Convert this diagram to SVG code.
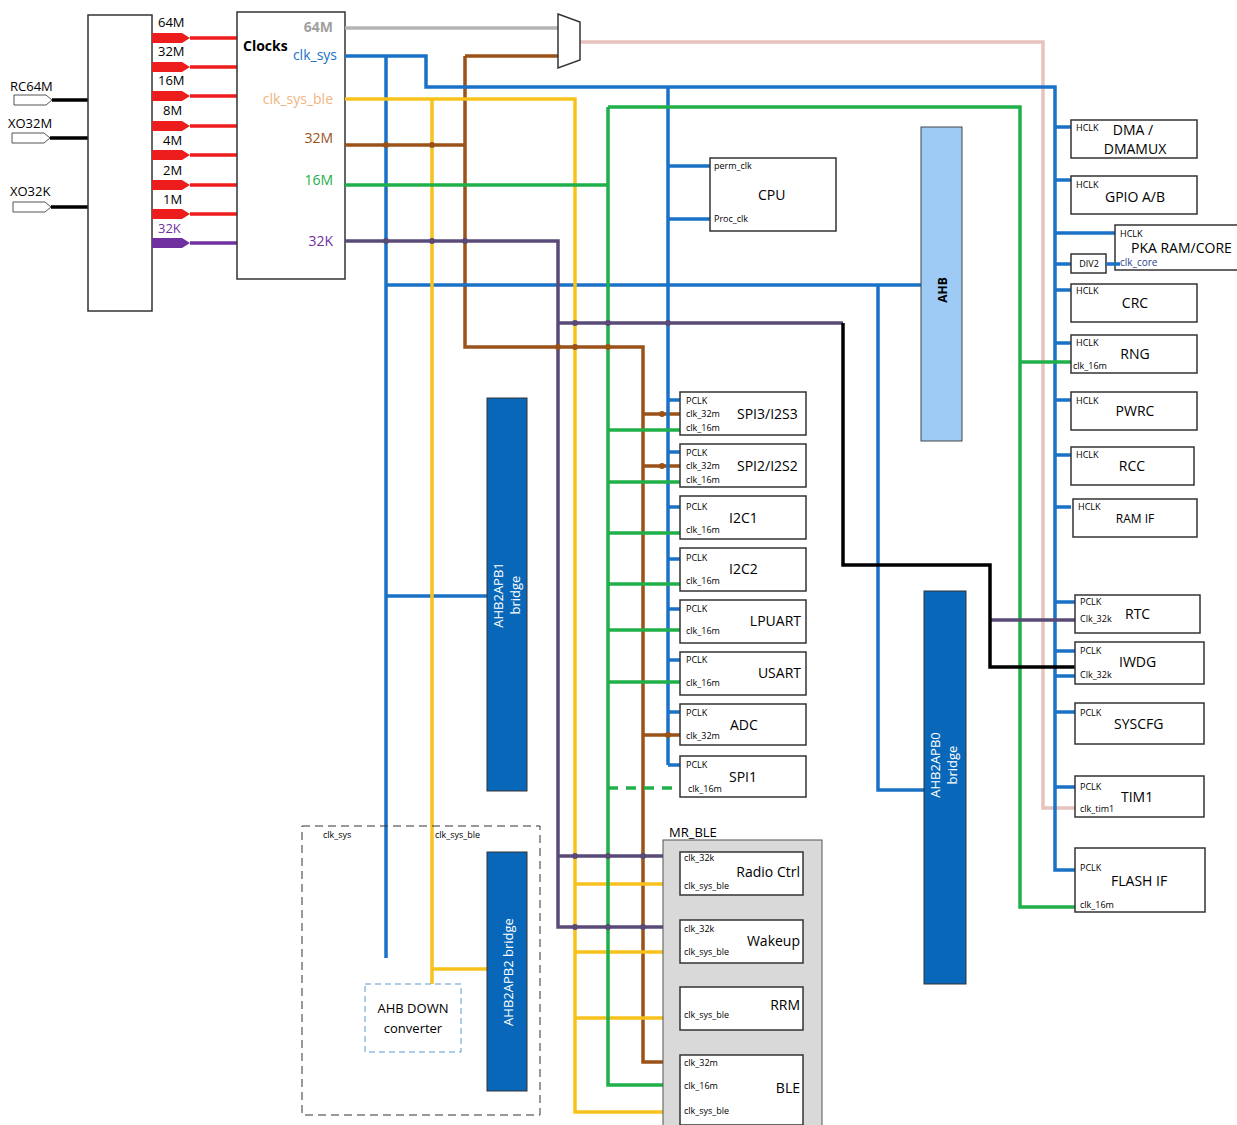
<svg xmlns="http://www.w3.org/2000/svg" width="1237" height="1125" viewBox="0 0 1237 1125">
<style>
text{font-family:"Open Sans","Liberation Sans",sans-serif;fill:#000}
.box{fill:#fff;stroke:#333;stroke-width:1.5}
.w{fill:none;stroke-width:3.5;stroke-linejoin:miter}
.b{stroke:#1a72c6}.y{stroke:#f7c21c}.br{stroke:#9a5218}.g{stroke:#20b04a}.p{stroke:#594a78}.k{stroke:#000}.gr{stroke:#b4b4b4}.pk{stroke:#e8c2bd}.r{stroke:#ee1d1d}
.s{font-size:9px}.m{font-size:14px}.l{font-size:13px}
</style>
<rect width="1237" height="1125" fill="#fff"/>
<g id="inputs">
<text x="10" y="91" class="l" font-family="Liberation Sans">RC64M</text>
<text x="8" y="128" class="l">XO32M</text>
<text x="10" y="196" class="l">XO32K</text>
<path d="M14,95H46L52,100L46,105H14Z" fill="#fff" stroke="#555"/>
<path d="M12,133H44L50,138L44,143H12Z" fill="#fff" stroke="#555"/>
<path d="M13,202H45L51,207L45,212H13Z" fill="#fff" stroke="#555"/>
<path d="M52,100H88M50,138H88M51,207H88" stroke="#000" stroke-width="3.5"/>
</g>
<g id="osc"><rect class="box" x="88" y="15" width="64" height="296"/></g>
<g id="osc-out">
<g fill="#ee1d1d" font-size="13" font-family="Liberation Sans">
<text x="158" y="27" fill="#ee1d1d">64M</text><text x="158" y="56" fill="#ee1d1d">32M</text><text x="158" y="85" fill="#ee1d1d">16M</text><text x="163" y="115" fill="#ee1d1d">8M</text><text x="163" y="145" fill="#ee1d1d">4M</text><text x="163" y="175" fill="#ee1d1d">2M</text><text x="163" y="204" fill="#ee1d1d">1M</text>
</g>
<text x="158" y="233" font-size="13" fill="#7030a0" style="fill:#7030a0">32K</text>
<path fill="#ee1d1d" d="M152,33H182L190,38L182,43H152ZM152,62H182L190,67L182,72H152ZM152,91H182L190,96L182,101H152ZM152,121H182L190,126L182,131H152ZM152,150H182L190,155L182,160H152ZM152,180H182L190,185L182,190H152ZM152,209H182L190,214L182,219H152Z"/>
<path fill="#7030a0" d="M152,238H182L190,243L182,248H152Z"/>
<path class="w r" d="M190,38H237M190,67H237M190,96H237M190,126H237M190,155H237M190,185H237M190,214H237"/>
<path class="w" stroke="#7030a0" d="M190,243H237"/>
</g>
<g id="clocks">
<rect class="box" x="237" y="12" width="108" height="267"/>
<text x="333" y="32" text-anchor="end" font-weight="bold" font-size="14" style="fill:#a0a0a0">64M</text>
<text x="243" y="51" font-weight="bold" font-size="14">Clocks</text>
<text x="337" y="60" text-anchor="end" font-size="14" style="fill:#1a72c6">clk_sys</text>
<text x="333" y="104" text-anchor="end" font-size="14" style="fill:#f0b482">clk_sys_ble</text>
<text x="333" y="143" text-anchor="end" font-size="14" style="fill:#9a5218">32M</text>
<text x="333" y="185" text-anchor="end" font-size="14" style="fill:#20b04a">16M</text>
<text x="333" y="246" text-anchor="end" font-size="14" style="fill:#7030a0">32K</text>
</g>
<g id="connectors">
<path class="w gr" d="M345,28H558"/>
<path class="w pk" d="M580,42H1043V808H1075"/>
<path class="w br" d="M465,56H558"/>
<path class="w br" d="M345,145H465M465,56V347H643V1062H680M643,414H680M643,466H680M643,735H680"/>
<path class="w b" d="M345,56H426V87H1055V870H1075M386,56V958M386,285H921M386,596H487M668,87V765M668,400H680M668,452H680M668,507H680M668,559H680M668,609H680M668,660H680M668,712H680M668,765H680M668,166H710M668,219H710M878,285V790H924M1055,127H1071M1055,180H1071M1055,233H1120M1055,264H1071M1055,290H1071M1055,343H1071M1055,400H1071M1055,455H1071M1055,507H1071M1055,602H1075M1055,651H1075M1055,676H1075M1055,712H1075M1055,787H1075"/>
<path class="w y" d="M345,99H575V1112H680M432,99V984M432,969H487M575,884H680M575,952H680M575,1018H680"/>
<path class="w g" d="M345,185H608M608,107V1085H680M608,107H1020V907H1075M1020,362H1075M608,430H680M608,482H680M608,533H680M608,584H680M608,630H680M608,682H680"/>
<path class="w g" stroke-dasharray="10,8" d="M608,788H680"/>
<path class="w p" d="M345,241H558V927H680M558,856H680M558,323H843M990,620H1075"/>
<path class="w k" d="M843,323V565H990V667H1075"/>
<g fill="#594a78"><circle cx="386" cy="241" r="3"/><circle cx="432" cy="241" r="3"/><circle cx="465" cy="241" r="3"/><circle cx="575" cy="323" r="3"/><circle cx="608" cy="323" r="3"/><circle cx="668" cy="323" r="3"/><circle cx="575" cy="856" r="3"/><circle cx="608" cy="856" r="3"/><circle cx="643" cy="856" r="3"/><circle cx="575" cy="927" r="3"/><circle cx="608" cy="927" r="3"/><circle cx="643" cy="927" r="3"/></g>
<g fill="#9a5218"><circle cx="386" cy="145" r="3"/><circle cx="432" cy="145" r="3"/><circle cx="558" cy="347" r="3"/><circle cx="575" cy="347" r="3"/><circle cx="608" cy="347" r="3"/><circle cx="662" cy="414" r="3"/><circle cx="662" cy="466" r="3"/><circle cx="668" cy="735" r="3"/></g>
<polygon points="558,14 580,22 580,60 558,68" fill="#fff" stroke="#333" stroke-width="1.5"/>
</g>
<g id="cpu"><rect class="box" x="710" y="158" width="126" height="73"/><text x="714" y="169" class="s">perm_clk</text><text x="714" y="222" class="s">Proc_clk</text><text x="758" y="200" class="m">CPU</text></g>
<g id="ahb"><rect x="921" y="127" width="41" height="314" fill="#9dcbf6" stroke="#444"/><text transform="translate(947,290) rotate(-90)" text-anchor="middle" font-weight="bold" font-size="12">AHB</text></g>
<g id="apb1"><rect x="487" y="398" width="40" height="393" fill="#0867b8" stroke="#333"/><text transform="translate(503,595) rotate(-90)" text-anchor="middle" font-size="13" style="fill:#fff">AHB2APB1</text><text transform="translate(520,595) rotate(-90)" text-anchor="middle" font-size="13" style="fill:#fff">bridge</text></g>
<g id="apb0"><rect x="924" y="591" width="42" height="393" fill="#0867b8" stroke="#333"/><text transform="translate(940,765) rotate(-90)" text-anchor="middle" font-size="13" style="fill:#fff">AHB2APB0</text><text transform="translate(957,765) rotate(-90)" text-anchor="middle" font-size="13" style="fill:#fff">bridge</text></g>
<g id="apb2-group">
<rect x="302" y="826" width="238" height="289" fill="none" stroke="#333" stroke-dasharray="8,5"/>
<text x="323" y="838" class="s">clk_sys</text><text x="435" y="838" class="s">clk_sys_ble</text>
<rect x="487" y="852" width="40" height="239" fill="#0867b8" stroke="#333"/><text transform="translate(513,972) rotate(-90)" text-anchor="middle" font-size="13" style="fill:#fff">AHB2APB2 bridge</text>
<rect x="365" y="984" width="96" height="68" fill="#fff" stroke="#5b9bd5" stroke-dasharray="6,4"/><text x="413" y="1013" text-anchor="middle" class="l">AHB DOWN</text><text x="413" y="1033" text-anchor="middle" class="l">converter</text>
</g>
<g id="mrble">
<rect x="663" y="840" width="159" height="290" fill="#d9d9d9" stroke="#555"/><text x="669" y="837" class="l">MR_BLE</text>
<rect class="box" x="680" y="852" width="123" height="43"/><text x="684" y="861" class="s">clk_32k</text><text x="684" y="889" class="s">clk_sys_ble</text><text x="800" y="877" text-anchor="end" class="m">Radio Ctrl</text>
<rect class="box" x="680" y="920" width="123" height="43"/><text x="684" y="932" class="s">clk_32k</text><text x="684" y="955" class="s">clk_sys_ble</text><text x="800" y="946" text-anchor="end" class="m">Wakeup</text>
<rect class="box" x="680" y="987" width="123" height="43"/><text x="684" y="1018" class="s">clk_sys_ble</text><text x="800" y="1010" text-anchor="end" class="m">RRM</text>
<rect class="box" x="680" y="1055" width="123" height="70"/><text x="684" y="1066" class="s">clk_32m</text><text x="684" y="1089" class="s">clk_16m</text><text x="684" y="1114" class="s">clk_sys_ble</text><text x="800" y="1093" text-anchor="end" class="m">BLE</text>
</g>
<g id="apb1-periph">
<g id="spi3"><rect class="box" x="680" y="392" width="126" height="43"/><text x="686" y="404" class="s">PCLK</text><text x="686" y="417" class="s">clk_32m</text><text x="686" y="431" class="s">clk_16m</text><text x="737" y="419" class="m">SPI3/I2S3</text></g>
<g id="spi2"><rect class="box" x="680" y="444" width="126" height="43"/><text x="686" y="456" class="s">PCLK</text><text x="686" y="469" class="s">clk_32m</text><text x="686" y="483" class="s">clk_16m</text><text x="737" y="471" class="m">SPI2/I2S2</text></g>
<g id="i2c1"><rect class="box" x="680" y="496" width="126" height="43"/><text x="686" y="510" class="s">PCLK</text><text x="686" y="533" class="s">clk_16m</text><text x="729" y="523" class="m">I2C1</text></g>
<g id="i2c2"><rect class="box" x="680" y="548" width="126" height="43"/><text x="686" y="561" class="s">PCLK</text><text x="686" y="584" class="s">clk_16m</text><text x="729" y="574" class="m">I2C2</text></g>
<g id="lpuart"><rect class="box" x="680" y="600" width="126" height="43"/><text x="686" y="612" class="s">PCLK</text><text x="686" y="634" class="s">clk_16m</text><text x="801" y="626" text-anchor="end" class="m">LPUART</text></g>
<g id="usart"><rect class="box" x="680" y="652" width="126" height="43"/><text x="686" y="663" class="s">PCLK</text><text x="686" y="686" class="s">clk_16m</text><text x="801" y="678" text-anchor="end" class="m">USART</text></g>
<g id="adc"><rect class="box" x="680" y="704" width="126" height="41"/><text x="686" y="716" class="s">PCLK</text><text x="686" y="739" class="s">clk_32m</text><text x="730" y="730" class="m">ADC</text></g>
<g id="spi1"><rect class="box" x="680" y="756" width="126" height="41"/><text x="686" y="768" class="s">PCLK</text><text x="688" y="792" class="s">clk_16m</text><text x="729" y="782" class="m">SPI1</text></g>
</g>
<g id="ahb-periph">
<g id="dma"><rect class="box" x="1071" y="120" width="126" height="38"/><text x="1076" y="131" class="s">HCLK</text><text x="1133" y="135" text-anchor="middle" class="m">DMA /</text><text x="1135" y="154" text-anchor="middle" class="m">DMAMUX</text></g>
<g id="gpio"><rect class="box" x="1071" y="176" width="126" height="38"/><text x="1076" y="188" class="s">HCLK</text><text x="1135" y="202" text-anchor="middle" class="m">GPIO A/B</text></g>
<g id="pka"><rect class="box" x="1115" y="225" width="130" height="45"/><text x="1120" y="237" class="s">HCLK</text><text x="1131" y="253" class="m">PKA RAM/CORE</text><text x="1120" y="266" font-size="10" style="fill:#1f3f8f">clk_core</text></g>
<g id="div2"><rect class="box" x="1071" y="254" width="35" height="19"/><text x="1089" y="267" text-anchor="middle" class="s">DIV2</text></g>
<path class="w b" stroke-width="2" d="M1106,264H1120"/>
<g id="crc"><rect class="box" x="1071" y="284" width="126" height="38"/><text x="1076" y="294" class="s">HCLK</text><text x="1135" y="308" text-anchor="middle" class="m">CRC</text></g>
<g id="rng"><rect class="box" x="1071" y="335" width="126" height="38"/><text x="1076" y="346" class="s">HCLK</text><text x="1073" y="369" class="s">clk_16m</text><text x="1135" y="359" text-anchor="middle" class="m">RNG</text></g>
<g id="pwrc"><rect class="box" x="1071" y="392" width="126" height="38"/><text x="1076" y="404" class="s">HCLK</text><text x="1135" y="416" text-anchor="middle" class="m">PWRC</text></g>
<g id="rcc"><rect class="box" x="1071" y="447" width="123" height="38"/><text x="1076" y="458" class="s">HCLK</text><text x="1132" y="471" text-anchor="middle" class="m">RCC</text></g>
<g id="ramif"><rect class="box" x="1073" y="499" width="124" height="38"/><text x="1078" y="510" class="s">HCLK</text><text x="1135" y="523" text-anchor="middle" font-size="12">RAM IF</text></g>
</g>
<g id="apb0-periph">
<g id="rtc"><rect class="box" x="1075" y="595" width="125" height="38"/><text x="1080" y="605" class="s">PCLK</text><text x="1080" y="622" class="s">Clk_32k</text><text x="1125" y="619" class="m">RTC</text></g>
<g id="iwdg"><rect class="box" x="1075" y="642" width="129" height="42"/><text x="1080" y="654" class="s">PCLK</text><text x="1080" y="678" class="s">Clk_32k</text><text x="1119" y="667" class="m">IWDG</text></g>
<g id="syscfg"><rect class="box" x="1075" y="703" width="129" height="41"/><text x="1080" y="716" class="s">PCLK</text><text x="1114" y="729" class="m">SYSCFG</text></g>
<g id="tim1"><rect class="box" x="1075" y="776" width="129" height="41"/><text x="1080" y="790" class="s">PCLK</text><text x="1080" y="812" class="s">clk_tim1</text><text x="1121" y="802" class="m">TIM1</text></g>
<g id="flash"><rect class="box" x="1075" y="848" width="130" height="64"/><text x="1080" y="871" class="s">PCLK</text><text x="1080" y="908" class="s">clk_16m</text><text x="1111" y="886" class="m">FLASH IF</text></g>
</g>
</svg>
